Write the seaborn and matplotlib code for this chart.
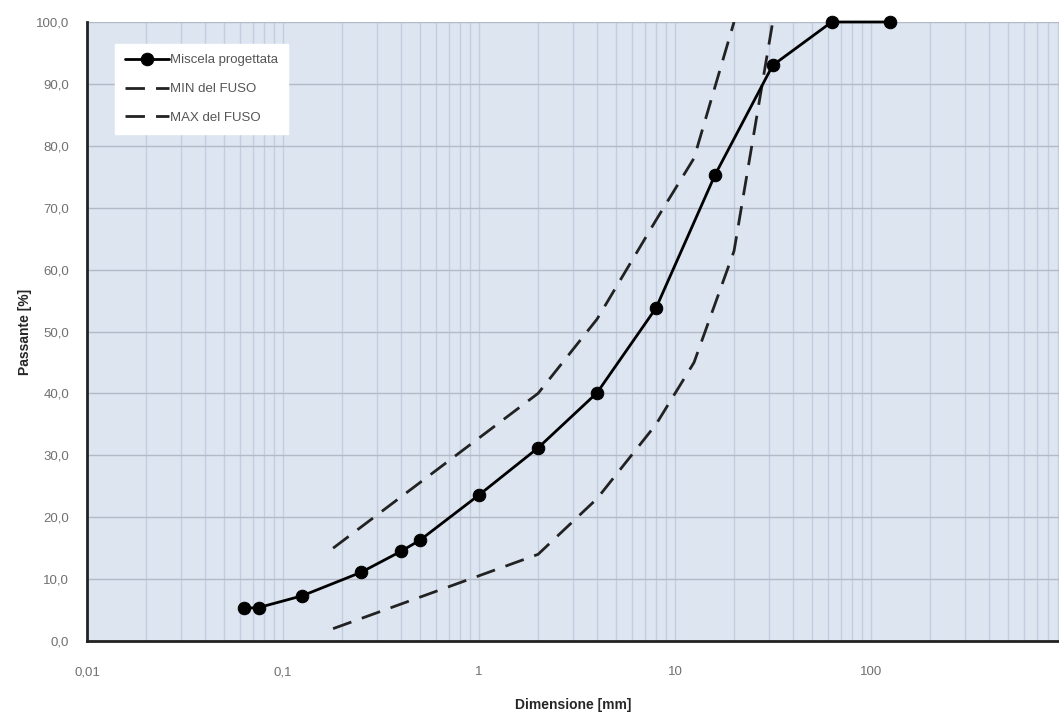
import matplotlib
matplotlib.use("Agg")
import matplotlib.pyplot as plt
import matplotlib.ticker as mticker
import numpy as np
import pandas as pd
import seaborn as sns

# --- data ---
miscela_mm = [0.063, 0.075, 0.125, 0.25, 0.4, 0.5, 1, 2, 4, 8, 16, 31.5, 63, 125]
miscela_pass = [5.3, 5.4, 7.3, 11.1, 14.5, 16.3, 23.6, 31.2, 40.1, 53.8, 75.3, 93.0, 100.0, 100.0]

fuso_mm = [0.18, 2, 4, 8, 12.5, 20, 31.5]
fuso_min = [2.0, 14.0, 23.0, 35.0, 45.0, 63.0, 100.0]

fuso_max_mm = [0.18, 2, 4, 8, 12.5, 20]
fuso_max = [15.0, 40.0, 52.0, 68.0, 78.0, 100.0]

x_ticks = [0.01, 0.1, 1, 10, 100]
x_ticklabels = ["0,01", "0,1", "1", "10", "100"]

sns.set_style("white")
plt.rcParams["font.family"] = ["Liberation Sans", "DejaVu Sans"]

fig = plt.figure(figsize=(10.59, 7.14), dpi=100)
ax = fig.add_axes([0.0822, 0.1022, 0.9178, 0.8670])
ax.set_facecolor("#dde5f1")

sns.lineplot(x=miscela_mm, y=miscela_pass, ax=ax, color="black", lw=2,
             marker="o", markersize=9, markeredgecolor="black",
             label="Miscela progettata", sort=False, zorder=5, clip_on=False)
sns.lineplot(x=fuso_mm, y=fuso_min, ax=ax, color="#222222", lw=2,
             dashes=False, label="MIN del FUSO", sort=False, zorder=4)
sns.lineplot(x=fuso_max_mm, y=fuso_max, ax=ax, color="#222222", lw=2,
             dashes=False, label="MAX del FUSO", sort=False, zorder=4)
for line in ax.get_lines()[1:3]:
    line.set_dashes([7, 4])

ax.set_xscale("log")
ax.set_xlim(0.01, 910)
ax.set_ylim(0, 100)

ax.set_xticks(x_ticks)
ax.set_xticklabels(x_ticklabels)
ax.xaxis.set_minor_locator(mticker.LogLocator(base=10, subs=np.arange(2, 10)))
ax.xaxis.set_minor_formatter(mticker.NullFormatter())
ax.set_yticks(np.arange(0, 101, 10))
ax.set_yticklabels([f"{v:.1f}".replace(".", ",") for v in np.arange(0, 101, 10)])

ax.grid(True, which="major", axis="y", color="#b3b9c6", lw=1)
ax.grid(True, which="both", axis="x", color="#c3cddd", lw=1)
ax.set_axisbelow(True)

for side in ["top", "right"]:
    ax.spines[side].set_visible(False)
for side in ["left", "bottom"]:
    ax.spines[side].set_color("#222222")
    ax.spines[side].set_linewidth(2)

ax.tick_params(axis="both", which="major", direction="out", length=4, width=1.5,
               color="#222222", labelcolor="#707070", labelsize=9.5, pad=9)
ax.tick_params(axis="x", which="major", pad=14)
ax.tick_params(axis="x", which="minor", length=0)

ax.set_xlabel("Dimensione [mm]", fontsize=10, fontweight="bold", va="center")
ax.xaxis.set_label_coords(0.5, -0.104)
ax.set_ylabel("Passante [%]", fontsize=10, fontweight="bold")
ax.yaxis.set_label_coords(-0.057, 0.5)

leg = ax.legend(loc="upper left", bbox_to_anchor=(0.029, 0.964), frameon=True,
                fancybox=False, fontsize=9.5, handlelength=3.3, handletextpad=0.1,
                borderpad=0.75, labelspacing=1.25, borderaxespad=0)
leg.get_frame().set_facecolor("white")
leg.get_frame().set_edgecolor("white")
leg.get_frame().set_alpha(1)
for h in leg.legend_handles[1:]:
    h.set_dashes([7, 4])
for t in leg.get_texts():
    t.set_color("#555555")

fig.savefig("out.png", dpi=100)
